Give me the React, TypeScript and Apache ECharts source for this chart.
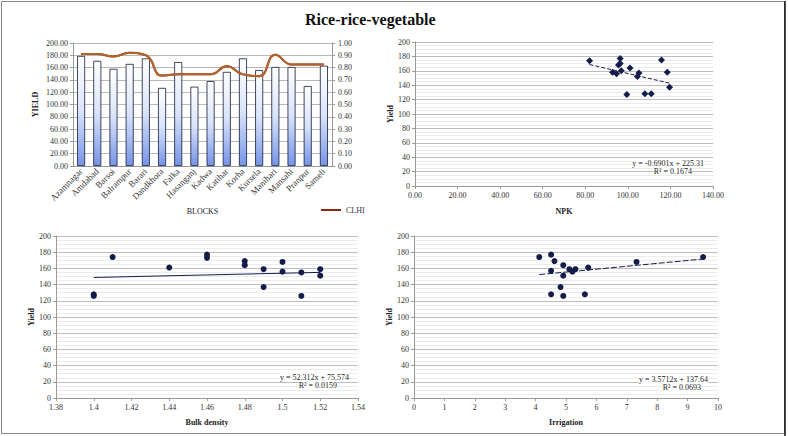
import React, { useEffect, useRef } from "react";
import * as echarts from "echarts";

const blocks = ["Azamnagar", "Amdabad", "Barsoi", "Balrampur", "Barari", "Dandkhora", "Falka", "Hasanganj", "Kadwa", "Katihar", "Korha", "Kursela", "Manihari", "Mansahi", "Pranpur", "Sameli"];
const yieldValues = [179, 171, 158, 166, 175, 127, 169, 129, 138, 153, 175, 156, 161, 161, 130, 163];
const indexValues = [0.91, 0.91, 0.89, 0.92, 0.9, 0.735, 0.745, 0.745, 0.745, 0.81, 0.745, 0.73, 0.905, 0.825, 0.825, 0.825];

const npkX = [82, 96.4, 96.4, 95.6, 96.9, 92.8, 94.7, 101, 105.2, 104.5, 115.8, 118.5, 119.6, 99.5, 108, 111];
const npkY = [174, 177, 170, 168, 160, 158, 156, 164, 157, 152, 175, 158, 137, 127, 128, 128];
const npkTrend = [-0.6901, 225.31];
const npkR2 = "0.1674";

const bdX = [1.4, 1.4, 1.41, 1.44, 1.46, 1.46, 1.48, 1.48, 1.49, 1.49, 1.5, 1.5, 1.51, 1.51, 1.52, 1.52];
const bdY = [128, 126, 174, 161, 177, 173, 169, 164, 159, 137, 168, 156, 155, 126, 159, 151];
const bdTrend = [52.312, 75.574];
const bdR2 = "0.0159";

const irrX = [4.12, 4.51, 4.62, 4.91, 4.51, 5.11, 5.21, 5.31, 5.73, 4.91, 4.82, 4.51, 4.91, 5.62, 7.32, 9.51];
const irrY = [174, 177, 169, 164, 157, 159, 156, 159, 161, 151, 137, 128, 126, 128, 168, 174];
const irrTrend = [3.5712, 137.64];
const irrR2 = "0.0693";

const FONT = "Liberation Serif";
const NAVY = "#141c4c";

function trendPoints(xs: number[], coef: number[]) {
  const lo = Math.min(...xs);
  const hi = Math.max(...xs);
  return [[lo, coef[0] * lo + coef[1]], [hi, coef[0] * hi + coef[1]]];
}

function fmtTrim(v: number) {
  return String(Number(v.toFixed(2)));
}

export default function App() {
  const ref = useRef<HTMLDivElement>(null);
  useEffect(() => {
    document.body.style.margin = "0";
    const chart = echarts.init(ref.current!, undefined, { renderer: "svg" });
    const lbl = { fontFamily: FONT, fontSize: 8, color: "#333333" };
    const nameStyle = { fontFamily: FONT, fontSize: 8, fontWeight: "bold" as const, color: "#222" };
    const scatterY = (gi: number) => ({
      type: "value",
      gridIndex: gi,
      min: 0,
      max: 200,
      interval: 20,
      name: "Yield",
      nameLocation: "middle",
      nameGap: 19,
      nameTextStyle: nameStyle,
      axisLine: { show: true, lineStyle: { color: "#999" } },
      axisTick: { show: true, length: 3, lineStyle: { color: "#999" } },
      axisLabel: { ...lbl, margin: 5 },
      splitLine: { lineStyle: { color: "#bdbdbd" } },
      minorTick: { show: false, splitNumber: 4 },
      minorSplitLine: { show: true, lineStyle: { color: "#ececec" } },
    });
    const fmtFixed = (v: number) => v.toFixed(2);
    const eqText = (x: number, y: number, text: string) => ({
      type: "text",
      x,
      y,
      style: {
        text,
        fontFamily: FONT,
        fontSize: 8,
        fill: "#222",
        align: "right",
        verticalAlign: "middle",
        backgroundColor: "#fff",
      },
      z: 100,
    });

    chart.setOption({
      animation: false,
      backgroundColor: "#fff",
      title: {
        text: "Rice-rice-vegetable",
        left: 300,
        top: 6,
        textStyle: { fontFamily: FONT, fontSize: 16, fontWeight: "bold", color: "#111" },
      },
      legend: {
        data: ["CLHI"],
        left: 316,
        top: 201,
        icon: "rect",
        itemWidth: 20,
        itemHeight: 2,
        itemGap: 4,
        textStyle: { fontFamily: FONT, fontSize: 8, color: "#333" },
      },
      grid: [
        { left: 73, top: 43, width: 259, height: 123 },
        { left: 415, top: 42, width: 298, height: 144 },
        { left: 56, top: 236, width: 302, height: 162 },
        { left: 414, top: 236, width: 304, height: 162 },
      ],
      xAxis: [
        {
          type: "category",
          gridIndex: 0,
          data: blocks,
          name: "BLOCKS",
          nameLocation: "middle",
          nameGap: 41,
          nameTextStyle: { ...nameStyle, fontWeight: "normal" },
          axisLine: { lineStyle: { color: "#999" } },
          axisTick: { show: false },
          axisLabel: { ...lbl, fontSize: 9, rotate: 45, interval: 0, margin: 4 },
        },
        {
          type: "value",
          gridIndex: 1,
          min: 0,
          max: 140,
          interval: 20,
          name: "NPK",
          nameLocation: "middle",
          nameGap: 21,
          nameTextStyle: nameStyle,
          axisLine: { lineStyle: { color: "#999" } },
          axisTick: { show: true, length: 3, lineStyle: { color: "#999" } },
          axisLabel: { ...lbl, formatter: fmtFixed, margin: 5 },
          splitLine: { show: false },
        },
        {
          type: "value",
          gridIndex: 2,
          min: 1.38,
          max: 1.54,
          interval: 0.02,
          name: "Bulk density",
          nameLocation: "middle",
          nameGap: 20,
          nameTextStyle: nameStyle,
          axisLine: { lineStyle: { color: "#999" } },
          axisTick: { show: true, length: 3, lineStyle: { color: "#999" } },
          axisLabel: { ...lbl, formatter: fmtTrim, margin: 5 },
          splitLine: { show: false },
        },
        {
          type: "value",
          gridIndex: 3,
          min: 0,
          max: 10,
          interval: 1,
          name: "Irrigation",
          nameLocation: "middle",
          nameGap: 20,
          nameTextStyle: nameStyle,
          axisLine: { lineStyle: { color: "#999" } },
          axisTick: { show: true, length: 3, lineStyle: { color: "#999" } },
          axisLabel: { ...lbl, margin: 5 },
          splitLine: { show: false },
        },
      ],
      yAxis: [
        {
          type: "value",
          gridIndex: 0,
          min: 0,
          max: 200,
          interval: 20,
          name: "YIELD",
          nameLocation: "middle",
          nameGap: 34,
          nameTextStyle: nameStyle,
          axisLine: { show: true, lineStyle: { color: "#999" } },
          axisTick: { show: true, length: 3, lineStyle: { color: "#999" } },
          axisLabel: { ...lbl, formatter: fmtFixed, margin: 5 },
          splitLine: { lineStyle: { color: "#b8b8b8" } },
        },
        {
          type: "value",
          gridIndex: 0,
          position: "right",
          min: 0,
          max: 1,
          interval: 0.1,
          axisLine: { show: true, lineStyle: { color: "#999999" } },
          axisTick: { show: true, length: 3, lineStyle: { color: "#999999" } },
          axisLabel: { fontFamily: FONT, fontSize: 8, color: "#333333", formatter: fmtFixed, margin: 6 },
          splitLine: { show: false },
        },
        { ...scatterY(1), nameGap: 18 },
        { ...scatterY(2), nameGap: 21 },
        { ...scatterY(3), nameGap: 20 },
      ],
      series: [
        {
          name: "YIELD",
          type: "bar",
          xAxisIndex: 0,
          yAxisIndex: 0,
          data: yieldValues,
          barWidth: 8,
          itemStyle: {
            color: new echarts.graphic.LinearGradient(0, 0, 0, 1, [
              { offset: 0, color: "#ffffff" },
              { offset: 0.5, color: "#d9e3fa" },
              { offset: 1, color: "#7594e6" },
            ]),
            borderColor: "#141a3a",
            borderWidth: 0.8,
          },
        },
        {
          name: "CLHI",
          type: "line",
          xAxisIndex: 0,
          yAxisIndex: 1,
          data: indexValues,
          smooth: 0.5,
          symbol: "none",
          color: "#8b2a12",
          lineStyle: { color: "#b5622c", width: 2, shadowColor: "#7a2a10", shadowBlur: 1 },
        },
        {
          type: "scatter",
          xAxisIndex: 1,
          yAxisIndex: 2,
          data: npkX.map((x, i) => [x, npkY[i]]),
          symbol: "diamond",
          symbolSize: 7,
          itemStyle: { color: NAVY, opacity: 1 },
        },
        {
          type: "line",
          xAxisIndex: 1,
          yAxisIndex: 2,
          data: trendPoints(npkX, npkTrend),
          symbol: "none",
          lineStyle: { color: NAVY, width: 1, type: [4, 2] },
        },
        {
          type: "scatter",
          xAxisIndex: 2,
          yAxisIndex: 3,
          data: bdX.map((x, i) => [x, bdY[i]]),
          symbol: "circle",
          symbolSize: 6,
          itemStyle: { color: NAVY, opacity: 1 },
        },
        {
          type: "line",
          xAxisIndex: 2,
          yAxisIndex: 3,
          data: trendPoints(bdX, bdTrend),
          symbol: "none",
          lineStyle: { color: NAVY, width: 1 },
        },
        {
          type: "scatter",
          xAxisIndex: 3,
          yAxisIndex: 4,
          data: irrX.map((x, i) => [x, irrY[i]]),
          symbol: "circle",
          symbolSize: 6,
          itemStyle: { color: NAVY, opacity: 1 },
        },
        {
          type: "line",
          xAxisIndex: 3,
          yAxisIndex: 4,
          data: trendPoints(irrX, irrTrend),
          symbol: "none",
          lineStyle: { color: NAVY, width: 1, type: [6, 2] },
        },
      ],
      graphic: [
        { type: "rect", shape: { x: 1.5, y: 1.5, width: 783, height: 432 }, style: { fill: "none", stroke: "#888", lineWidth: 1 }, z: 0 },
        { type: "line", shape: { x1: 785, y1: 1, x2: 785, y2: 436 }, style: { stroke: "#111", lineWidth: 1.5 }, z: 0 },
        eqText(704, 163, `y = ${npkTrend[0]}x + ${npkTrend[1]}`),
        eqText(692, 171, `R² = ${npkR2}`),
        eqText(349, 377, `y = ${bdTrend[0]}x + ${bdTrend[1]}`),
        eqText(337, 385, `R² = ${bdR2}`),
        eqText(708, 379, `y = ${irrTrend[0]}x + ${irrTrend[1]}`),
        eqText(701, 387, `R² = ${irrR2}`),
      ],
    });
    return () => chart.dispose();
  }, []);
  return <div ref={ref} style={{ width: 788, height: 436 }} />;
}
